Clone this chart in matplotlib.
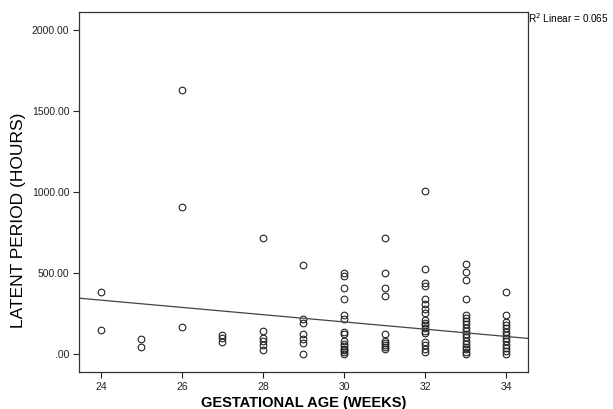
import matplotlib
matplotlib.use("Agg")
import matplotlib.pyplot as plt
import numpy as np

plt.rcParams['font.family'] = ['Liberation Sans', 'DejaVu Sans']

# Data: gestational age (weeks) -> latent periods (hours)
ages = [24, 25, 26, 27, 28, 29, 30, 31, 32, 33, 34]
latent = {
    24: [383, 148],
    25: [95, 45],
    26: [1633, 911, 168],
    27: [118, 98, 78],
    28: [720, 145, 100, 85, 60, 25],
    29: [551, 215, 195, 125, 96, 68, 0],
    30: [505, 485, 410, 340, 240, 220, 140, 125, 80, 65, 50, 35, 25, 15, 5],
    31: [720, 505, 410, 360, 125, 85, 72, 60, 45, 35],
    32: [1005, 528, 442, 420, 340, 310, 278, 253, 212, 195, 179, 162, 146, 130, 78, 57, 30, 14],
    33: [557, 508, 459, 340, 245, 225, 205, 185, 165, 145, 125, 105, 85, 65, 45, 30, 15, 5],
    34: [385, 241, 200, 180, 160, 140, 120, 100, 80, 60, 40, 20, 5],
}
# Linear fit line (hours = intercept + slope * weeks)
fit_intercept = 872.0
fit_slope = -22.4
r2_text = "R$^2$ Linear = 0.065"
yticks = [0, 500, 1000, 1500, 2000]
ytick_labels = [".00", "500.00", "1000.00", "1500.00", "2000.00"]
xticks = [24, 26, 28, 30, 32, 34]

x = np.concatenate([[a] * len(latent[a]) for a in ages]).astype(float)
y = np.concatenate([latent[a] for a in ages]).astype(float)

fig = plt.figure(figsize=(6.13, 4.09), dpi=100)
ax = fig.add_axes([0.1289, 0.0905, 0.7324, 0.8802])

ax.plot(x, y, linestyle='none', marker='o', markersize=4.8, markerfacecolor='none',
        markeredgecolor='#222222', markeredgewidth=0.8)

xlim = (23.46, 34.54)
xx = np.array(xlim)
ax.plot(xx, fit_intercept + fit_slope * xx, color='#444444', linewidth=0.9)

ax.set_xlim(*xlim)
ax.set_ylim(-109, 2113)
ax.set_xticks(xticks)
ax.set_xticklabels([str(t) for t in xticks], fontsize=7.5)
ax.set_yticks(yticks)
ax.set_yticklabels(ytick_labels, fontsize=7.5)
ax.tick_params(direction='out', length=4, width=0.8, colors='#222222', pad=3)
for s in ax.spines.values():
    s.set_color('#333333')
    s.set_linewidth(0.9)

ax.set_xlabel("GESTATIONAL AGE (WEEKS)", fontsize=10.5, fontweight='bold', labelpad=3)
ax.set_ylabel("LATENT PERIOD (HOURS)", fontsize=12.5)
ax.yaxis.set_label_coords(-0.118, 0.42)

fig.text(0.862, 0.955, r2_text, fontsize=7.2, ha='left', va='center')

fig.savefig("out.png", dpi=100)
